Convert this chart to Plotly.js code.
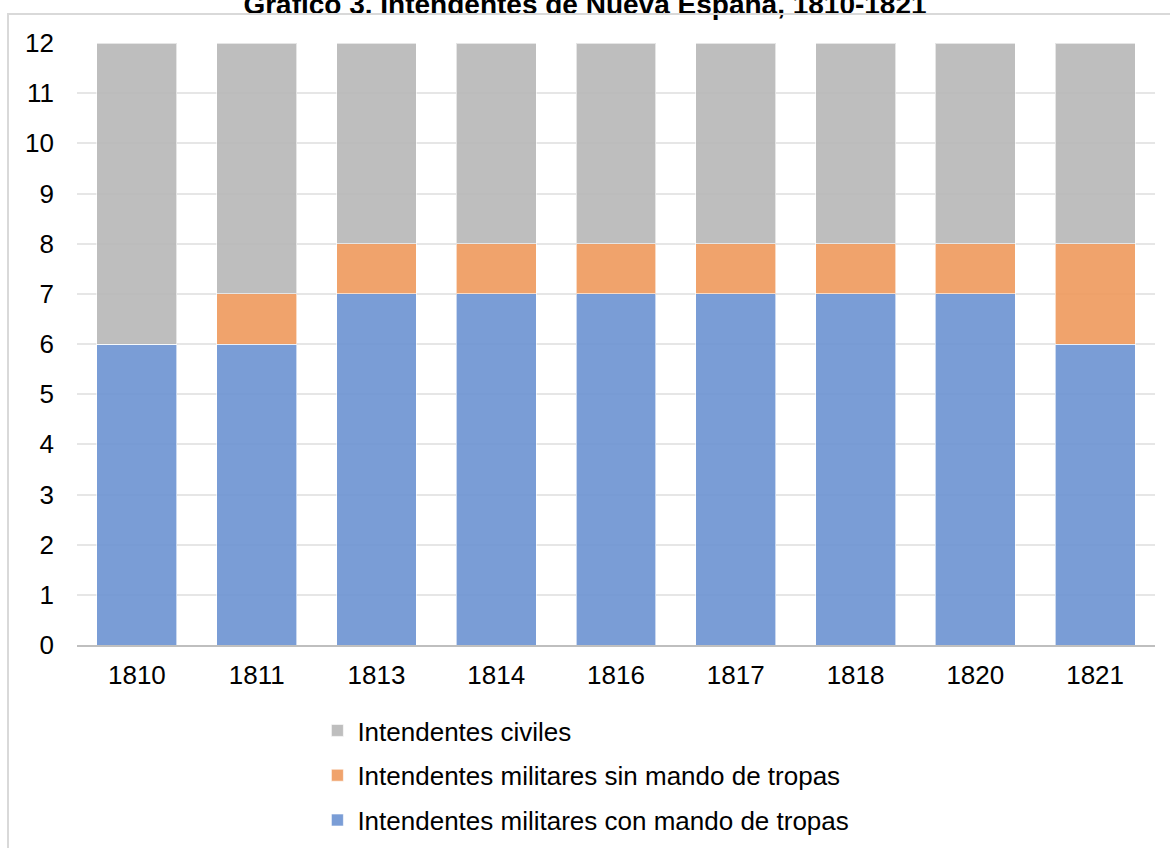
<!DOCTYPE html>
<html><head><meta charset="utf-8">
<script src="https://cdn.plot.ly/plotly-3.0.1.min.js"></script>
<style>
body{margin:0;padding:0;background:#fff;}
#wrap{position:relative;width:1170px;height:848px;overflow:hidden;}
#chart{width:1170px;height:848px;}
#frame{position:absolute;left:7px;top:13px;width:1180px;height:900px;border:2px solid #d9d9d9;box-sizing:border-box;pointer-events:none;}
</style></head>
<body><div id="wrap"><div id="chart"></div><div id="frame"></div></div>
<script>
const years = ['1810','1811','1813','1814','1816','1817','1818','1820','1821'];
const conMando = [6,6,7,7,7,7,7,7,6];
const sinMando = [0,1,1,1,1,1,1,1,2];
const civiles  = [6,5,4,4,4,4,4,4,4];
const names = ['Intendentes militares con mando de tropas','Intendentes militares sin mando de tropas','Intendentes civiles'];
const colors = ['rgba(111,149,211,0.92)','rgba(239,155,96,0.92)','rgba(184,184,184,0.92)'];
const ranks = [3,2,1];
const series = [conMando, sinMando, civiles];
const traces = series.map((s,i)=>({
  type:'bar', x:years, y:s, name:names[i], legendgroup:'g'+i, legendrank:ranks[i],
  marker:{color:colors[i], line:{color:'rgba(255,255,255,0.6)', width:1}},
  hoverinfo:'y+name'
}));
const layout = {
  width:1170, height:848,
  barmode:'stack', bargap:0.333,
  paper_bgcolor:'#fff', plot_bgcolor:'#fff',
  margin:{l:77, r:15, t:43, b:203, autoexpand:false},
  font:{family:'Liberation Sans, Arial, sans-serif', color:'#000', size:26},
  title:{text:'<b>Gráfico 3. Intendentes de Nueva España, 1810-1821</b>', font:{size:28, color:'#000'}, x:0.5, xanchor:'center', yref:'container', y:0.995, yanchor:'middle'},
  xaxis:{type:'category', showgrid:false, showline:true, linecolor:'#bfbfbf', linewidth:2, ticks:'', tickfont:{size:26}, ticklabelstandoff:6, automargin:false},
  yaxis:{range:[0,12], dtick:1, showgrid:true, gridcolor:'#e6e6e6', gridwidth:2, zeroline:false, showline:false, ticks:'', tickfont:{size:26}, ticklabelstandoff:22, automargin:false},
  showlegend:true,
  legend:{orientation:'v', traceorder:'grouped', tracegroupgap:8, x:0.223, xanchor:'left', y:-0.103, yanchor:'top', font:{size:26}, itemwidth:30},
};
Plotly.newPlot('chart', traces, layout, {displayModeBar:false});
</script></body></html>
